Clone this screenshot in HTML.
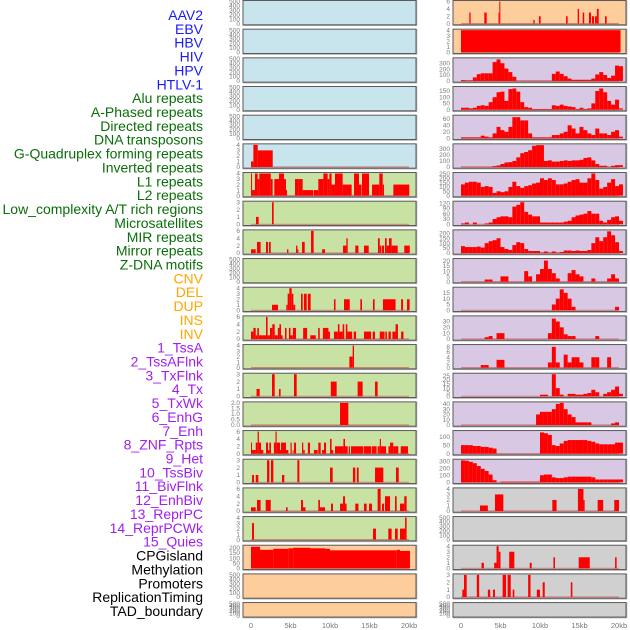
<!DOCTYPE html>
<html><head><meta charset="utf-8"><style>
html,body{margin:0;padding:0;background:#fff;}
svg{display:block;font-family:"Liberation Sans",sans-serif;}
</style></head><body>
<svg id="chart" width="630" height="630" viewBox="0 0 630 630" xmlns="http://www.w3.org/2000/svg">
<rect width="630" height="630" fill="#fff"/>
<g id="labels"></g>
<g id="panels"></g>
<g id="xaxes"></g>
</svg>
<script>
const labelNames=["AAV2","EBV","HBV","HIV","HPV","HTLV-1","Alu repeats","A-Phased repeats","Directed repeats","DNA transposons","G-Quadruplex forming repeats","Inverted repeats","L1 repeats","L2 repeats","Low_complexity A/T rich regions","Microsatellites","MIR repeats","Mirror repeats","Z-DNA motifs","CNV","DEL","DUP","INS","INV","1_TssA","2_TssAFlnk","3_TxFlnk","4_Tx","5_TxWk","6_EnhG","7_Enh","8_ZNF_Rpts","9_Het","10_TssBiv","11_BivFlnk","12_EnhBiv","13_ReprPC","14_ReprPCWk","15_Quies","CPGisland","Methylation","Promoters","ReplicationTiming","TAD_boundary"];
const labelGroups=["blue","blue","blue","blue","blue","blue","green","green","green","green","green","green","green","green","green","green","green","green","green","orange","orange","orange","orange","orange","purple","purple","purple","purple","purple","purple","purple","purple","purple","purple","purple","purple","purple","purple","purple","black","black","black","black","black"];
const xTickVals=[0,5,10,15,20];
const xTickLabels=["0","5kb","10kb","15kb","20kb"];

// left column segment data [startKb,endKb,value]
const segL5=[[0,0.3,1],[0.3,0.85,4],[0.85,2.75,3]];
const segL6=[[0,0.13,4],[0.13,0.5,1],[0.5,0.84,4],[0.84,1.05,3],[1.05,2.5,4],[2.5,2.74,3],[2.95,3.54,3],[3.54,4.18,4],[4.18,4.43,3],[4.43,4.56,1],[5.57,6.03,3],[6.03,6.54,3],[6.54,7.9,1],[7.97,8.52,1],[8.52,9.16,3],[9.16,9.7,4],[9.7,9.92,3],[9.92,10.2,4],[10.2,10.63,2],[10.63,11.6,4],[11.6,12.74,2],[13.04,13.67,4],[13.67,14,2],[14.05,14.94,4],[15.32,16.24,2],[16.24,16.67,4],[16.67,16.84,2],[18.02,20.04,2]];
const segL7=[[0.63,0.97,1],[2.66,2.87,3]];
const segL8=[[0,0.6,1],[0.76,1.22,3],[1.9,2.15,3],[2.28,2.5,3],[4.56,4.73,1],[5.7,5.87,2],[5.87,6.0,1],[6.46,6.8,3],[7.6,7.93,6],[9,9.37,1],[11.65,12.07,2],[12.07,12.24,4],[13.2,13.6,2],[14.3,14.9,2],[16.07,16.3,4],[16.3,16.5,2],[16.58,16.84,2],[16.96,17.17,4],[17.17,17.47,2],[17.47,17.8,4],[17.8,18.23,2],[18.23,18.57,2],[19.4,20.1,2]];
const segL10=[[2.66,3.42,1],[4.47,4.64,1],[4.64,4.85,3],[4.85,5.15,4],[5.15,5.36,3],[5.36,5.6,1],[6.33,6.54,3],[6.7,7.05,3],[7.2,7.55,3],[10.5,10.7,2],[11.77,12.5,2],[13.84,14.05,2],[15.44,15.65,2],[16.7,18.3,2],[19,19.24,2],[19.75,20.08,2]];
const segL11=[[0,0.3,2],[0.3,0.6,3],[0.6,0.8,1],[0.8,1.0,3],[1.0,1.4,1],[1.4,1.9,1],[1.9,2.1,6],[2.1,2.4,1],[2.4,2.7,3],[2.7,3.0,4],[3.0,3.4,1],[3.4,3.6,3],[3.6,3.8,4],[3.8,4.0,1],[4.3,4.5,3],[4.8,5.0,3],[5.0,5.3,1],[5.3,5.7,3],[6.6,7.1,3],[7.5,8.2,1],[8.5,8.7,3],[9.1,9.3,3],[9.3,9.8,3],[9.8,10.0,2],[10.5,11.0,2],[11.0,11.2,4],[11.2,11.6,2],[11.6,11.8,4],[12.0,12.2,4],[12.2,12.8,2],[13.0,13.3,2],[14.3,15.2,2],[15.4,15.7,2],[16.3,16.6,2],[16.6,16.9,2],[17.0,17.2,2],[17.4,17.7,2],[17.9,18.3,2],[18.3,18.6,4],[19.0,19.3,2]];
const segL12=[[12.45,12.87,2],[12.87,13.04,4]];
const segL13=[[0.7,1.1,1],[2.66,3.0,3],[3.54,3.75,1],[5.44,5.78,3],[10.1,10.84,2],[13.5,14.13,2],[15.7,16.03,2]];
const segL14=[[11.27,12.32,2]];
const segL15=[[0,0.13,3],[0.13,0.6,1],[0.6,0.84,3],[0.84,1.0,6],[1.0,1.27,3],[1.27,1.56,1],[1.9,2.15,3],[2.15,2.32,1],[2.32,2.53,3],[2.9,3.1,3],[3.1,3.25,6],[3.25,3.67,3],[3.67,3.8,1],[3.8,4.43,3],[4.43,4.73,1],[5.0,5.15,3],[5.27,5.36,1],[5.44,5.7,3],[6.46,6.62,3],[6.62,6.8,1],[7.2,7.47,3],[7.97,8.44,1],[8.52,8.82,3],[9.0,9.24,1],[9.24,9.5,3],[10.0,10.2,4],[10.2,10.4,1],[10.63,11.7,2],[11.7,11.9,4],[11.9,12.24,2],[12.37,12.53,2],[12.66,14.22,2],[14.3,15.24,2],[15.32,15.9,2],[16.03,16.3,2],[16.3,16.45,4],[16.45,17.1,2],[17.4,17.6,2],[17.6,18.0,3],[18.0,18.65,2],[18.95,19.87,2]];
const segL16=[[0.13,0.38,1],[0.6,0.93,1],[2.03,2.32,3],[2.53,2.83,3],[3.92,4.22,1],[5.87,6.12,3],[10,10.34,2],[12.9,13.2,2],[13.4,13.63,2],[15.7,16.75,2],[18.35,18.7,2]];
const segL17=[[0,0.6,1],[0.76,1.22,3],[1.86,2.5,3],[4.43,4.64,1],[6.33,6.58,3],[6.58,6.9,1],[8.52,8.73,3],[8.73,9.37,1],[10.13,10.38,2],[11.27,11.65,2],[11.65,11.9,4],[11.9,12.1,2],[13.2,13.6,2],[14.3,14.64,2],[14.94,15.32,2],[16.03,16.41,6],[16.58,16.84,2],[16.96,17.6,4],[18.23,18.44,4],[18.86,19.4,2],[19.4,19.7,4]];
const segL18=[[0.13,0.38,3],[15.44,15.82,2],[17.38,17.8,2],[18.23,18.57,2],[18.86,19.5,2],[19.5,19.7,4]];
const segL19=[[0,1.14,210],[1.14,2.83,180],[2.83,4.73,190],[4.73,5.36,195],[5.36,7.47,200],[7.47,9.37,195],[9.37,10,190],[10,18.44,175],[18.44,18.86,180],[18.86,20.13,170]];

// right column segment data
const segR0=[[1.05,1.22,3],[2.95,3.25,3],[4.75,4.85,3],[4.85,4.98,6],[9.16,9.33,1],[9.87,10.08,2],[13.3,13.5,2],[14.77,14.94,4],[15.4,15.6,3],[16.2,16.46,3],[16.58,16.84,2],[16.96,17.2,2],[17.2,17.43,4],[18.23,18.44,2]];
const segR1=[[0,20.2,4]];
const segR17=[[2.4,3.4,1],[4.3,5.36,3],[11.56,12.1,2],[14.8,15.5,4],[15.5,15.65,2],[17.3,18.0,2],[19.4,20.0,2]];
const segR19=[[2.6,2.9,1],[4.2,4.5,1],[4.5,4.77,4],[4.77,5.0,3],[6.1,6.75,3],[8.7,8.95,1],[11.7,11.9,2],[14.9,16.3,2],[19.5,19.7,2]];
const segR20=[[0.17,0.38,1],[0.38,0.72,3],[2.0,2.3,3],[3.4,3.7,1],[4.05,4.3,1],[5.27,5.7,3],[5.9,6.3,3],[6.54,6.75,1],[8.5,8.8,3],[9.6,10.0,1],[10.34,10.6,2],[13.9,14.1,2]];

// right column binned profiles (0.5kb bins from 0)
const binsR2=[15,10,10,60,115,130,130,130,320,365,300,210,150,70,5,5,5,5,5,5,5,5,5,120,160,120,80,40,20,20,20,20,20,40,110,150,100,50,90,260,250];
const binsR3=[15,15,10,15,30,35,30,60,100,140,145,70,165,170,145,60,20,15,5,5,5,5,5,35,30,40,30,25,20,5,15,5,10,50,150,170,140,70,40,80,10];
const binsR4=[3,3,3,3,3,8,5,3,15,35,25,20,35,65,65,55,55,15,3,3,3,3,3,10,10,15,20,40,30,15,35,25,15,10,30,15,15,10,20,25,5];
const binsR5=[3,3,3,3,3,3,3,3,15,25,50,75,80,100,160,230,250,280,355,365,365,100,110,90,90,100,110,100,110,110,120,150,160,110,50,20,20,3,20,30,30];
const binsR6=[130,150,160,160,150,100,110,100,30,50,40,50,100,160,110,90,110,120,140,150,200,180,200,180,130,130,140,160,180,190,150,150,200,255,180,80,100,150,190,110,130];
const binsR7=[5,10,0,10,0,0,5,10,30,40,45,45,40,100,110,125,70,55,45,45,10,10,10,10,10,10,15,20,40,50,55,60,75,60,60,20,10,25,40,45,20];
const binsR8=[70,60,60,60,65,55,100,120,130,150,60,40,30,80,110,100,40,20,20,20,5,15,5,15,5,10,25,25,20,25,20,20,30,100,160,120,160,220,180,110,20];
const binsR9=[0,0,0,0,0,0,2,2,0,0,5,5,0,0,0,0,10,5,0,7,12,20,12,8,3,0,0,8,11,7,5,0,0,3,0,0,0,3,7,3,0];
const binsR10=[0,0,0,0,0,0,0,0,0,0,0,0,0,0,0,0,0,0,0,0,0,0,0,5,10,18,15,10,3,0,0,0,0,0,0,0,0,0,0,3,0];
const binsR11=[0,0,0,0,0,0,3,5,0,10,10,0,0,0,0,0,0,0,0,0,0,0,10,35,30,20,8,5,5,0,0,0,0,0,5,0,0,0,0,0,0];
const binsR12=[0,0,0,0,0,1,1,0,0,3,3,0,0,0,0,0,0,0,0,0,0,0,2,8,2,0,5,2,4,4,2,0,0,4,4,0,0,4,0,0,0];
const binsR13=[0,0,0,0,0,0,0,0,0,0,0,0,0,0,0,0,0,0,0,0,2,2,0,27,10,2,0,3,3,2,2,3,4,8,5,0,3,5,8,12,3];
const binsR14=[0,0,0,0,0,0,0,0,0,0,0,0,0,0,0,0,0,0,0,20,25,25,25,30,40,42,30,20,15,5,5,5,5,0,0,0,0,0,3,5,0];
const binsR15=[50,50,50,45,45,40,40,35,30,0,0,0,0,0,0,0,0,0,0,0,125,120,110,50,45,60,75,80,80,80,80,80,75,70,60,55,55,55,55,65,65];
const binsR16=[310,305,290,270,230,190,160,110,30,0,10,10,10,10,10,10,10,10,10,10,100,110,110,70,60,60,70,80,80,80,80,80,80,70,40,40,40,40,40,40,40];

const T500=[0,100,200,300,400,500];
const T4=[0,1,2,3,4], T3=[0,1,2,3], T6=[0,2,4,6];
const BG={blue:"#c8e4ec",green:"#c8e2a4",orange:"#fecd9c",purple:"#d8c8e4",grey:"#d0d0d0"};

// [col,row,bg,ticks,tickLabels|null,ymax,segments|null,bins|null]
const panels=[
 [0,0,"blue",T500,null,500,null,null],[0,1,"blue",T500,null,500,null,null],[0,2,"blue",T500,null,500,null,null],
 [0,3,"blue",T500,null,500,null,null],[0,4,"blue",T500,null,500,null,null],[0,5,"blue",T4,null,4,segL5,null],
 [0,6,"green",T4,null,4,segL6,null],[0,7,"green",T3,null,3,segL7,null],[0,8,"green",T6,null,6,segL8,null],
 [0,9,"green",T500,null,500,null,null],[0,10,"green",T4,null,4,segL10,null],[0,11,"green",T6,null,6,segL11,null],
 [0,12,"green",T4,null,4,segL12,null],[0,13,"green",T3,null,3,segL13,null],
 [0,14,"green",[0,0.5,1,1.5,2],["0.0","0.5","1.0","1.5","2.0"],2,segL14,null],
 [0,15,"green",T6,null,6,segL15,null],[0,16,"green",T3,null,3,segL16,null],[0,17,"green",T6,null,6,segL17,null],
 [0,18,"green",T4,null,4,segL18,null],[0,19,"orange",[0,50,100,150,200],null,215,segL19,null],
 [0,20,"orange",T500,null,500,null,null],[0,21,"orange",T500,null,500,null,null],
 [1,0,"orange",T6,null,6,segR0,null],[1,1,"orange",T4,null,4,segR1,null],
 [1,2,"purple",[0,100,200,300],null,375,null,binsR2],[1,3,"purple",[0,50,100,150],null,178,null,binsR3],
 [1,4,"purple",[0,20,40,60],null,68,null,binsR4],[1,5,"purple",[0,100,200,300],null,370,null,binsR5],
 [1,6,"purple",[0,50,100,150,200,250],null,255,null,binsR6],[1,7,"purple",[0,30,60,90,120],null,125,null,binsR7],
 [1,8,"purple",[0,50,100,150,200],null,225,null,binsR8],[1,9,"purple",[0,5,10,15,20],null,21,null,binsR9],
 [1,10,"purple",[0,5,10,15],null,19,null,binsR10],[1,11,"purple",[0,10,20,30],null,38,null,binsR11],
 [1,12,"purple",[0,2,4,6,8],null,8.5,null,binsR12],[1,13,"purple",[0,5,10,15,20,25],null,27,null,binsR13],
 [1,14,"purple",[0,10,20,30,40],null,42,null,binsR14],[1,15,"purple",[0,50,100],null,130,null,binsR15],
 [1,16,"purple",[0,100,200,300],null,312,null,binsR16],
 [1,17,"grey",T4,null,4,segR17,null],[1,18,"grey",T500,null,500,null,null],[1,19,"grey",T4,null,4,segR19,null],
 [1,20,"grey",T3,null,3,segR20,null],[1,21,"grey",T500,null,500,null,null]
];

const NS="http://www.w3.org/2000/svg";
function mk(tag,attrs,parent){const e=document.createElementNS(NS,tag);for(const k in attrs)e.setAttribute(k,attrs[k]);parent.appendChild(e);return e;}
const colColors={blue:"#1a1aff",green:"#0a6e0a",orange:"#ffa500",purple:"#a020f0",black:"#000"};

const gl=document.getElementById("labels");
labelNames.forEach((n,i)=>{
  const t=mk("text",{x:203,y:(15+i*13.86+5).toFixed(1),"text-anchor":"end","font-size":"14",fill:colColors[labelGroups[i]]},gl);
  
  
  t.textContent=n;
});

const gp=document.getElementById("panels");
const colX=[243,453], zeroX=[251,461], PXKB=7.9;
function xs(col,kb){return zeroX[col]+kb*PXKB;}
panels.forEach(p=>{
  const [col,row,bg,ticks,tl,ymax,segs,bins]=p;
  const top=0.5+row*28.67, h=row<21?24.3:14.5, bot=top+h;
  const y0=bot-1.2, y1=top+1;
  const ys=v=>y0-(v/ymax)*(y0-y1);
  const g=mk("g",{},gp);
  
  
  mk("rect",{x:colX[col]+0.5,y:top+0.5,width:173,height:h,fill:"none",stroke:"#aaa","stroke-width":1.5},g);
  mk("rect",{x:colX[col],y:top,width:173,height:h,fill:BG[bg],stroke:"#5a5a5a","stroke-width":1},g);
  ticks.forEach((v,k)=>{
    const t=mk("text",{x:colX[col]-3,y:(ys(v)+2.2).toFixed(1),"text-anchor":"end","font-size":"6.5",fill:"#7a7a7a"},g);
    
    
    t.textContent=tl?tl[k]:String(v);
  });
  const hasData=!!(segs||bins);
  if(hasData){
    mk("line",{x1:xs(col,0),x2:xs(col,20),y1:y0,y2:y0,stroke:"#d06060","stroke-width":1.2,opacity:0.7},g);
  }
  const bars=[];
  if(segs)segs.forEach(s=>bars.push(s));
  if(bins)bins.forEach((v,i)=>{if(v>0)bars.push([i*0.5,i*0.5+0.5,v]);});
  bars.forEach(b=>{
    const yv=Math.max(ys(b[2]),top+0.5);
    const r=mk("rect",{x:xs(col,b[0]).toFixed(2),y:yv.toFixed(2),width:Math.max(0.8,(b[1]-b[0])*PXKB).toFixed(2),height:Math.max(0,y0-yv).toFixed(2),fill:"#ff0000"},g);
    
    
  });
});

const gx=document.getElementById("xaxes");
[0,1].forEach(col=>{
  xTickVals.forEach((v,k)=>{
    const t=mk("text",{x:xs(col,v).toFixed(1),y:628,"text-anchor":"middle","font-size":"7.5",fill:"#777"},gx);
    
    
    t.textContent=xTickLabels[k];
  });
});
</script>
</body></html>
